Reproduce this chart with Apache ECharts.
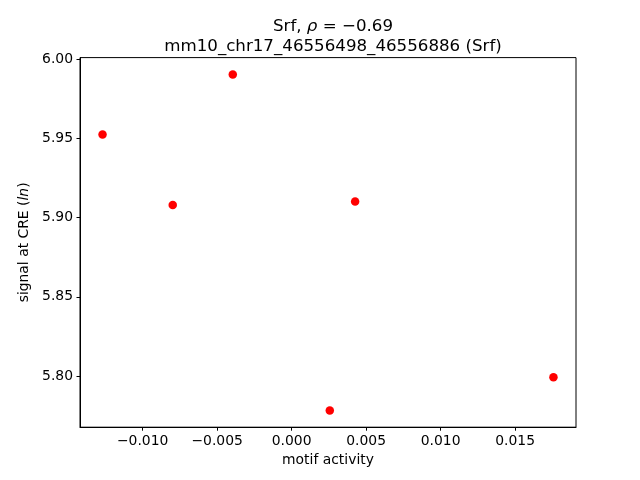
<!DOCTYPE html>
<html>
<head>
<meta charset="utf-8">
<script src="https://cdn.jsdelivr.net/npm/echarts@6/dist/echarts.min.js"></script>
<style>html,body{margin:0;padding:0;background:#fff}#c{width:640px;height:480px}</style>
</head>
<body>
<div id="c"></div>
<script>
const xValues = [-0.01269, -0.00798, -0.00395, 0.00426, 0.00256, 0.01757];
const yValues = [5.9525, 5.9079, 5.9904, 5.9102, 5.7783, 5.7993];
const xTicks = [-0.010, -0.005, 0.000, 0.005, 0.010, 0.015];
const yTicks = [5.80, 5.85, 5.90, 5.95, 6.00];

function padRange(vals) {
  const lo = Math.min(...vals), hi = Math.max(...vals), d = hi - lo;
  return [lo - 0.05 * d, hi + 0.05 * d];
}
const xr = padRange(xValues), yr = padRange(yValues);
const fmt = (dec) => (v) => (v < -1e-12 ? '\u2212' : '') + Math.abs(v).toFixed(dec);
const FONT = 'DejaVu Sans';

const chart = echarts.init(document.getElementById('c'), null, {renderer: 'canvas'});
chart.setOption({
  animation: false,
  backgroundColor: '#ffffff',
  title: {
    text: '{n|Srf, }{i|ρ}{n| = \u22120.69}\n{n|mm10_chr17_46556498_46556886 (Srf)}',
    left: 328, top: 12, textAlign: 'center',
    textStyle: {
      fontFamily: FONT, fontSize: 16.67, fontWeight: 'normal', color: '#000', lineHeight: 20,
      rich: {
        n: {fontFamily: FONT, fontSize: 16.67, color: '#000', lineHeight: 20},
        i: {fontFamily: FONT, fontSize: 16.67, color: '#000', fontStyle: 'italic', lineHeight: 20}
      }
    }
  },
  grid: {left: 80, right: 64, top: 57.6, bottom: 52.8, show: true, borderColor: '#000', borderWidth: 1, backgroundColor: 'transparent'},
  xAxis: {
    type: 'value', min: xr[0], max: xr[1], position: 'bottom',
    name: 'motif activity', nameLocation: 'middle', nameGap: 26,
    nameTextStyle: {fontFamily: FONT, fontSize: 13.9, color: '#000', verticalAlign: 'top'},
    axisLine: {show: true, onZero: false, lineStyle: {color: '#000', width: 1}},
    splitLine: {show: false},
    axisTick: {show: true, inside: false, length: 3.5, lineStyle: {color: '#000', width: 1}, customValues: xTicks},
    axisLabel: {fontFamily: FONT, fontSize: 13.9, color: '#000', margin: 7, customValues: xTicks, formatter: fmt(3)}
  },
  yAxis: {
    type: 'value', min: yr[0], max: yr[1], position: 'left',
    name: '{n|signal at CRE (}{i|ln}{n|)}', nameLocation: 'middle', nameGap: 48, nameRotate: 90,
    nameTextStyle: {fontFamily: FONT, fontSize: 13.9, color: '#000',
      rich: {n: {fontFamily: FONT, fontSize: 13.9, color: '#000'}, i: {fontFamily: FONT, fontSize: 13.9, color: '#000', fontStyle: 'italic'}}},
    axisLine: {show: true, onZero: false, lineStyle: {color: '#000', width: 1}},
    splitLine: {show: false},
    axisTick: {show: true, inside: false, length: 3.5, lineStyle: {color: '#000', width: 1}, customValues: yTicks},
    axisLabel: {fontFamily: FONT, fontSize: 13.9, color: '#000', margin: 7, customValues: yTicks, formatter: fmt(2)}
  },
  series: [{
    type: 'scatter',
    data: xValues.map((x, i) => [x, yValues[i]]),
    symbol: 'circle', symbolSize: 8.5,
    itemStyle: {color: '#ff0000', opacity: 1},
    emphasis: {disabled: true}
  }]
});
</script>
</body>
</html>
